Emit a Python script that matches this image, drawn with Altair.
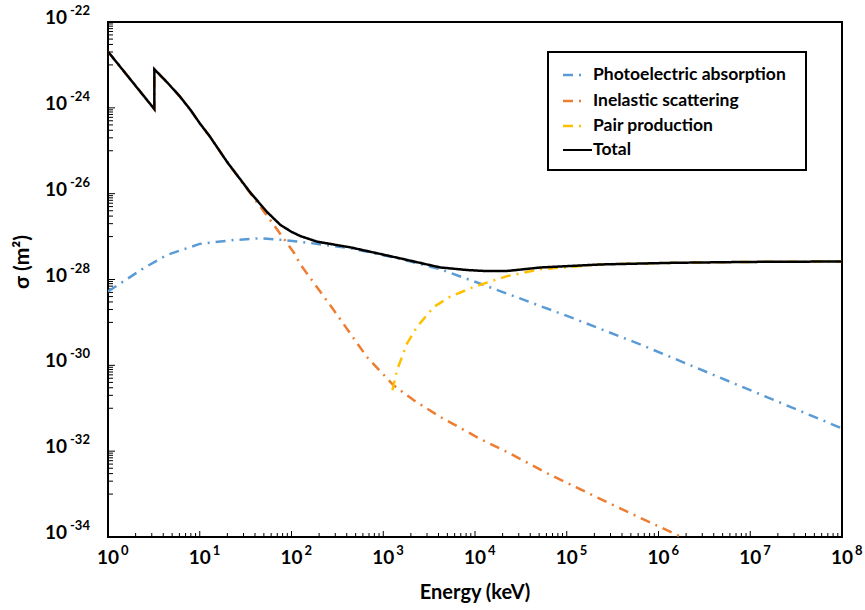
import altair as alt
import pandas as pd

# ---------------- data ----------------
series_names = ["Photoelectric absorption", "Inelastic scattering", "Pair production", "Total"]
series_colors = ["#5B9BD5", "#ED7D31", "#FFC000", "#000000"]

photo_energy = [1, 2.43, 4.37, 10, 23.4, 45.7, 81.3, 148, 437, 1549, 4169, 12590,
                22390, 43650, 120200, 645700, 3467000, 1.82e7, 1e8]
photo_sigma = [5.25e-29, 1.82e-28, 3.72e-28, 6.76e-28, 8.32e-28, 9.12e-28, 8.32e-28, 7.24e-28,
               5.37e-28, 3.02e-28, 1.74e-28, 7.41e-29, 4.68e-29, 2.75e-29, 1.23e-29,
               3.02e-30, 6.76e-31, 1.55e-31, 3.39e-32]

inel_energy = [1, 3.2, 3.2, 4.47, 6.1, 7.94, 10, 12.9, 20, 35.5, 58.9, 105, 126, 288, 661,
               1288, 2138, 4169, 11480, 22390, 61660, 331100, 1479000, 1995000]
inel_sigma = [2.04e-23, 9.33e-25, 7.94e-24, 3.80e-24, 1.82e-24, 8.91e-25, 4.37e-25, 2.14e-25,
              5.37e-26, 1.02e-26, 2.40e-27, 4.37e-28, 2.19e-28, 1.95e-29, 1.58e-30,
              3.47e-31, 1.55e-31, 6.31e-32, 1.91e-32, 9.55e-33, 3.02e-33, 5.37e-34, 1.20e-34, 8.91e-35]

pair_energy = [1259, 1413, 1820, 2344, 3548, 5370, 9772, 22390, 52480, 275400, 1479000, 1e7, 1e8]
pair_sigma = [2.63e-31, 7.76e-31, 3.24e-30, 7.94e-30, 2.29e-29, 3.98e-29, 6.76e-29, 1.20e-28,
              1.74e-28, 2.29e-28, 2.45e-28, 2.57e-28, 2.63e-28]

total_energy = [1, 3.2, 3.2, 4.47, 6.1, 7.94, 10, 12.9, 20, 35.5, 53.7, 75.9, 100, 126, 191,
                437, 1549, 4169, 8318, 12590, 22390, 52480, 234400, 1479000, 1e7, 1e8]
total_sigma = [2.04e-23, 9.33e-25, 7.94e-24, 3.80e-24, 1.82e-24, 8.91e-25, 4.37e-25, 2.14e-25,
               5.37e-26, 1.07e-26, 3.80e-27, 1.86e-27, 1.29e-27, 1.02e-27, 7.59e-28,
               5.62e-28, 3.09e-28, 1.91e-28, 1.66e-28, 1.58e-28, 1.58e-28, 1.91e-28, 2.24e-28,
               2.45e-28, 2.57e-28, 2.63e-28]

x_label_exponents = [0, 1, 2, 3, 4, 5, 6, 7, 8]
y_label_exponents = [-22, -24, -26, -28, -30, -32, -34]

# ---------------- tables ----------------
rows = []
for name, es, ss in [
    (series_names[0], photo_energy, photo_sigma),
    (series_names[1], inel_energy, inel_sigma),
    (series_names[2], pair_energy, pair_sigma),
    (series_names[3], total_energy, total_sigma),
]:
    for i, (e, s) in enumerate(zip(es, ss)):
        rows.append({"series": name, "E": e, "sigma": s, "idx": i})
df = pd.DataFrame(rows)

x_major = pd.DataFrame({"v": [10.0 ** k for k in range(1, 8)]})
x_minor = pd.DataFrame({"v": [m * 10.0 ** k for k in range(0, 8) for m in range(2, 10)]})
y_major = pd.DataFrame({"v": [10.0 ** e for e in range(-32, -22, 2)]})
y_minor = pd.DataFrame({"v": [m * 10.0 ** o for o in range(-33, -22, 2) for m in range(1, 10)]})

x_labels = pd.DataFrame({"v": [10.0 ** k for k in x_label_exponents],
                         "exp": [str(k) for k in x_label_exponents]})
y_labels = pd.DataFrame({"v": [10.0 ** k for k in y_label_exponents],
                         "exp": [str(k) for k in y_label_exponents]})

W, H = 734, 515
FONT = "Lato"
DASHDOT = [10, 6, 2, 6]

xs = alt.Scale(type="log", domain=[1, 1e8], nice=False)
ys = alt.Scale(type="log", domain=[1e-34, 1e-22], nice=False)

color_scale = alt.Scale(domain=series_names, range=series_colors)
dash_scale = alt.Scale(domain=series_names, range=[DASHDOT, DASHDOT, DASHDOT, [1, 0]])
width_scale = alt.Scale(domain=series_names, range=[2.5, 2.5, 2.5, 1.8])

enc = dict(
    x=alt.X("E:Q", scale=xs, axis=None),
    y=alt.Y("sigma:Q", scale=ys, axis=None),
    color=alt.Color("series:N", scale=color_scale, legend=None),
    strokeDash=alt.StrokeDash("series:N", scale=dash_scale, legend=None),
    strokeWidth=alt.StrokeWidth("series:N", scale=width_scale, legend=None),
    order=alt.Order("idx:Q"),
    detail="series:N",
)

colored = alt.Chart(df).transform_filter(alt.datum.series != "Total").mark_line(
    clip=True, strokeCap="butt").encode(**enc)
total = alt.Chart(df).transform_filter(alt.datum.series == "Total").mark_line(clip=True).encode(**enc)

xmaj = alt.Chart(x_major).mark_rule(color="black", strokeWidth=1).encode(
    x=alt.X("v:Q", scale=xs, axis=None), y=alt.value(H), y2=alt.value(H - 6))
xmin = alt.Chart(x_minor).mark_rule(color="black", strokeWidth=1).encode(
    x=alt.X("v:Q", scale=xs, axis=None), y=alt.value(H), y2=alt.value(H - 4))
ymaj = alt.Chart(y_major).mark_rule(color="black", strokeWidth=1).encode(
    y=alt.Y("v:Q", scale=ys, axis=None), x=alt.value(0), x2=alt.value(7))
ymin = alt.Chart(y_minor).mark_rule(color="black", strokeWidth=1).encode(
    y=alt.Y("v:Q", scale=ys, axis=None), x=alt.value(0), x2=alt.value(5))

xl_base = alt.Chart(x_labels).mark_text(font=FONT, fontWeight="bold", fontSize=19, color="black",
                                        align="center", baseline="middle").encode(
    x=alt.X("v:Q", scale=xs, axis=None), y=alt.value(536), text=alt.value("10"))
xl_exp = alt.Chart(x_labels).mark_text(font=FONT, fontWeight="bold", fontSize=13, color="black",
                                       align="left", baseline="middle", dx=13).encode(
    x=alt.X("v:Q", scale=xs, axis=None), y=alt.value(529), text="exp:N")

yl_base = alt.Chart(y_labels).mark_text(font=FONT, fontWeight="bold", fontSize=19, color="black",
                                        align="right", baseline="middle", dy=-4).encode(
    y=alt.Y("v:Q", scale=ys, axis=None), x=alt.value(-41), text=alt.value("10"))
yl_exp = alt.Chart(y_labels).mark_text(font=FONT, fontWeight="bold", fontSize=13, color="black",
                                       align="left", baseline="middle", dy=-11).encode(
    y=alt.Y("v:Q", scale=ys, axis=None), x=alt.value(-38), text="exp:N")

x_title = alt.Chart(pd.DataFrame({"t": ["Energy (keV)"]})).mark_text(
    font=FONT, fontWeight="bold", fontSize=20, color="black", align="center", baseline="middle").encode(
    x=alt.value(367), y=alt.value(571), text="t:N")
y_title = alt.Chart(pd.DataFrame({"t": ["σ (m²)"]})).mark_text(
    font=FONT, fontWeight="bold", fontSize=21, color="black", align="center", baseline="middle",
    angle=270).encode(x=alt.value(-85), y=alt.value(240), text="t:N")

# ---------------- legend (drawn as marks) ----------------
one = pd.DataFrame({"k": [0]})
LEG_L, LEG_R, LEG_T, LEG_B = 440, 698, 30, 148
row_y = [53, 79, 104, 128]
legend_layers = [
    alt.Chart(one).mark_rect(fill="white", stroke="black", strokeWidth=2).encode(
        x=alt.value(LEG_L), x2=alt.value(LEG_R), y=alt.value(LEG_T), y2=alt.value(LEG_B))
]
for name, col, yy in zip(series_names, series_colors, row_y):
    is_total = name == "Total"
    legend_layers.append(
        alt.Chart(one).mark_rule(
            color=col, strokeWidth=1.8 if is_total else 2.5, strokeCap="butt",
            strokeDash=[1, 0] if is_total else DASHDOT).encode(
            x=alt.value(455), x2=alt.value(484 if is_total else 478), y=alt.value(yy))
    )
    legend_layers.append(
        alt.Chart(pd.DataFrame({"t": [name]})).mark_text(
            font=FONT, fontWeight="bold", fontSize=17.5, color="black", align="left",
            baseline="middle").encode(x=alt.value(485), y=alt.value(yy), text="t:N")
    )

chart = alt.layer(
    xmin, xmaj, ymin, ymaj, colored, total, xl_base, xl_exp, yl_base, yl_exp, x_title, y_title,
    *legend_layers
).properties(
    width=W, height=H,
    autosize=alt.AutoSizeParams(type="none"),
    padding={"left": 108, "top": 22, "right": 23, "bottom": 73},
    background="white",
).configure_view(stroke="black", strokeWidth=2)

chart.save("out.html", embed_options={"renderer": "svg", "actions": False})
